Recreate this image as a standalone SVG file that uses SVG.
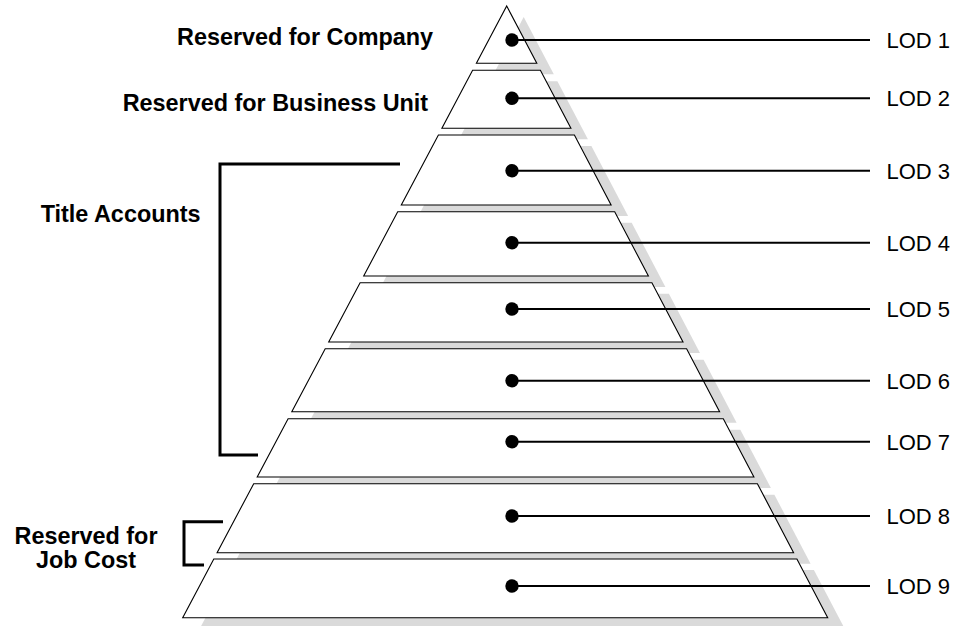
<svg xmlns="http://www.w3.org/2000/svg" width="958" height="626" viewBox="0 0 958 626">
<style>
.shadow{fill:#dadada;stroke:none}
.band{fill:#fff;stroke:#000;stroke-width:1.1;stroke-linejoin:miter}
.dot{fill:#000}
.lead{stroke:#000;stroke-width:2;fill:none}
.brk{stroke:#000;stroke-width:3;fill:none}
.lod{font-family:"Liberation Sans",Arial,sans-serif;font-size:22px;fill:#000}
.lbl{font-family:"Liberation Sans",Arial,sans-serif;font-size:23.4px;font-weight:bold;fill:#000}
</style>
<g id="shadows" transform="translate(17,11)">
<polygon class="shadow" points="506.7,6 536.8,63.3 476.4,63.3"/>
<polygon class="shadow" points="472.6,70.3 540.4,70.3 570.9,128.3 441.9,128.3"/>
<polygon class="shadow" points="438.4,135 574.4,135 611.1,205 401.3,205"/>
<polygon class="shadow" points="397.7,211.7 614.7,211.7 648.4,276 363.7,276"/>
<polygon class="shadow" points="360.1,282.7 651.9,282.7 683.0,342 328.7,342"/>
<polygon class="shadow" points="325.2,348.7 686.6,348.7 719.6,411.7 291.8,411.7"/>
<polygon class="shadow" points="288.1,418.7 723.3,418.7 753.9,477 257.2,477"/>
<polygon class="shadow" points="253.7,483.7 757.4,483.7 793.6,552.7 217.1,552.7"/>
<polygon class="shadow" points="213.8,559 796.9,559 827.7,617.7 182.7,617.7"/>
</g>
<g id="lod1"><polygon class="band" points="506.7,6 536.8,63.3 476.4,63.3"/><circle class="dot" cx="512" cy="40" r="6.7"/><text class="lod" x="886.5" y="48">LOD 1</text></g>
<g id="lod2"><polygon class="band" points="472.6,70.3 540.4,70.3 570.9,128.3 441.9,128.3"/><circle class="dot" cx="512" cy="98.3" r="6.7"/><text class="lod" x="886.5" y="106.3">LOD 2</text></g>
<g id="lod3"><polygon class="band" points="438.4,135 574.4,135 611.1,205 401.3,205"/><circle class="dot" cx="512" cy="170.7" r="6.7"/><text class="lod" x="886.5" y="178.7">LOD 3</text></g>
<g id="lod4"><polygon class="band" points="397.7,211.7 614.7,211.7 648.4,276 363.7,276"/><circle class="dot" cx="512" cy="242.7" r="6.7"/><text class="lod" x="886.5" y="250.7">LOD 4</text></g>
<g id="lod5"><polygon class="band" points="360.1,282.7 651.9,282.7 683.0,342 328.7,342"/><circle class="dot" cx="512" cy="309" r="6.7"/><text class="lod" x="886.5" y="317">LOD 5</text></g>
<g id="lod6"><polygon class="band" points="325.2,348.7 686.6,348.7 719.6,411.7 291.8,411.7"/><circle class="dot" cx="512" cy="380.7" r="6.7"/><text class="lod" x="886.5" y="388.7">LOD 6</text></g>
<g id="lod7"><polygon class="band" points="288.1,418.7 723.3,418.7 753.9,477 257.2,477"/><circle class="dot" cx="512" cy="441.7" r="6.7"/><text class="lod" x="886.5" y="449.7">LOD 7</text></g>
<g id="lod8"><polygon class="band" points="253.7,483.7 757.4,483.7 793.6,552.7 217.1,552.7"/><circle class="dot" cx="512" cy="516" r="6.7"/><text class="lod" x="886.5" y="524">LOD 8</text></g>
<g id="lod9"><polygon class="band" points="213.8,559 796.9,559 827.7,617.7 182.7,617.7"/><circle class="dot" cx="512" cy="586" r="6.7"/><text class="lod" x="886.5" y="594">LOD 9</text></g>
<g id="connectors">
<line class="lead" x1="512" y1="40" x2="870" y2="40"/>
<line class="lead" x1="512" y1="98.3" x2="870" y2="98.3"/>
<line class="lead" x1="512" y1="170.7" x2="870" y2="170.7"/>
<line class="lead" x1="512" y1="242.7" x2="870" y2="242.7"/>
<line class="lead" x1="512" y1="309" x2="870" y2="309"/>
<line class="lead" x1="512" y1="380.7" x2="870" y2="380.7"/>
<line class="lead" x1="512" y1="441.7" x2="870" y2="441.7"/>
<line class="lead" x1="512" y1="516" x2="870" y2="516"/>
<line class="lead" x1="512" y1="586" x2="870" y2="586"/>
<path class="brk" d="M400,164 H220 V455 H258"/>
<path class="brk" d="M223,521.7 H184 V565 H204"/>
</g>
<g id="labels">
<text class="lbl" x="177" y="45">Reserved for Company</text>
<text class="lbl" x="122.7" y="110.7">Reserved for Business Unit</text>
<text class="lbl" x="40.7" y="221.7">Title Accounts</text>
<text class="lbl" x="86" y="543.5" text-anchor="middle">Reserved for</text>
<text class="lbl" x="86" y="568" text-anchor="middle">Job Cost</text>
</g>
</svg>
